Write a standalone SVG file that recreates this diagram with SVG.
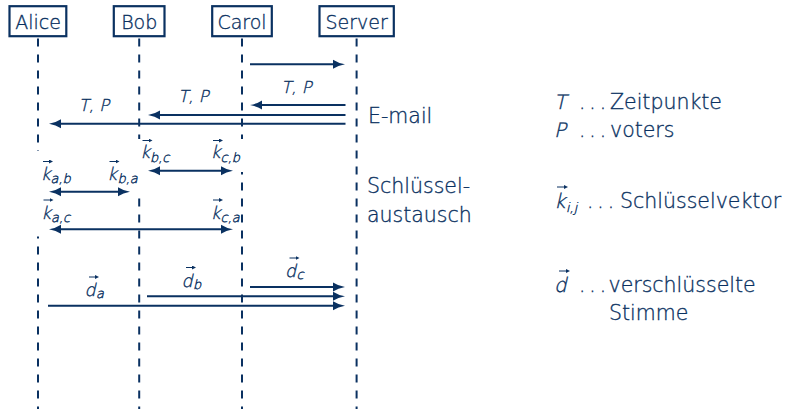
<svg xmlns="http://www.w3.org/2000/svg" width="793" height="409" viewBox="0 0 793 409">
  <style>
    .box { fill: #fff; stroke: #0a3161; stroke-width: 2.2; }
    .life { fill: none; stroke: #0a3161; stroke-width: 2; stroke-dasharray: 8 8; }
    .msg { fill: none; stroke: #0a3161; stroke-width: 2; }
    .one { marker-end: url(#head); }
    .two { marker-start: url(#head); marker-end: url(#head); }
    .vec { fill: none; stroke: #0a3161; stroke-width: 1; marker-end: url(#vhead); }
    text { font-family: "DejaVu Sans", "Liberation Sans", sans-serif; fill: #0a3161; font-weight: 300;
           stroke: #0a3161; stroke-width: 0.35; }
    .name { font-size: 19px; text-anchor: middle; }
    .txt { font-size: 20.5px; }
    /* slanted math letters, drawn upright and sheared by their transform */
    .lbl { font-size: 16.5px; text-anchor: middle; }
    .m { font-size: 17.5px; }
    .mb { font-size: 20px; }
    .sub { font-size: 13px; stroke-width: 0.4; }
    .dots { font-size: 20px; letter-spacing: 4px; }
  </style>
  <defs>
    <marker id="head" viewBox="0 -5 12 10" refX="6" refY="0" markerWidth="12" markerHeight="10" markerUnits="userSpaceOnUse" orient="auto-start-reverse">
      <path d="M12,0 Q5,1.2 0,4.5 L0,-4.5 Q5,-1.2 12,0 Z" fill="#0a3161"/>
    </marker>
    <marker id="vhead" viewBox="0 -2 4 4" refX="1" refY="0" markerWidth="4" markerHeight="4" markerUnits="userSpaceOnUse" orient="auto">
      <path d="M4,0 L0,2 L0,-2 Z" fill="#0a3161"/>
    </marker>
  </defs>

  <!-- participants -->
  <g id="alice">
    <rect class="box" x="9.5" y="6.2" width="56.8" height="30"/>
    <text class="name" x="38" y="29">Alice</text>
  </g>
  <g id="bob">
    <rect class="box" x="113.8" y="6.2" width="50.7" height="30"/>
    <text class="name" x="139.2" y="29">Bob</text>
  </g>
  <g id="carol">
    <rect class="box" x="212.2" y="6.2" width="59.6" height="30"/>
    <text class="name" x="242" y="29">Carol</text>
  </g>
  <g id="server">
    <rect class="box" x="319.5" y="6.2" width="74.3" height="30"/>
    <text class="name" x="356.6" y="29">Server</text>
  </g>

  <!-- lifelines -->
  <g id="lifelines">
    <path class="life" d="M38,38.5 V151"/>
    <path class="life" d="M38,236.5 V409" stroke-dashoffset="6"/>
    <path class="life" d="M139.2,38.5 V139"/>
    <path class="life" d="M139.2,198.5 V409"/>
    <path class="life" d="M242,38.5 V139"/>
    <path class="life" d="M242,172 V409" stroke-dashoffset="5.5"/>
    <path class="life" d="M356.6,38.5 V409"/>
  </g>

  <!-- messages -->
  <g id="connectors">
    <!-- e-mail round -->
    <path class="msg one" d="M250,64.3 H339"/>
    <path class="msg one" d="M345.5,105 H256"/>
    <path class="msg one" d="M345.5,115 H154"/>
    <path class="msg one" d="M345.5,123.8 H55"/>
    <!-- key exchange -->
    <path class="msg two" d="M154,170.7 H227"/>
    <path class="msg two" d="M55,191.7 H124"/>
    <path class="msg two" d="M55,229.3 H227"/>
    <!-- encrypted votes -->
    <path class="msg one" d="M250,287 H339"/>
    <path class="msg one" d="M147,296.2 H339"/>
    <path class="msg one" d="M48,305.7 H339"/>
  </g>

  <!-- message labels -->
  <g id="msg-labels">
    <text class="lbl" transform="translate(296.5,93) skewX(-13)">T, P</text>
    <text class="lbl" transform="translate(193.5,101.5) skewX(-13)">T, P</text>
    <text class="lbl" transform="translate(94,111) skewX(-13)">T, P</text>

    <text class="m" transform="translate(140,158) skewX(-13)">k</text><text class="sub" transform="translate(150,162) skewX(-13)">b,c</text>
    <path class="vec" d="M142.5,140.5 H149.5"/>
    <text class="m" transform="translate(210.5,158) skewX(-13)">k</text><text class="sub" transform="translate(220.5,162) skewX(-13)">c,b</text>
    <path class="vec" d="M213,140.5 H220"/>

    <text class="m" transform="translate(40.5,180) skewX(-13)">k</text><text class="sub" transform="translate(50.5,183) skewX(-13)">a,b</text>
    <path class="vec" d="M43,161.5 H50"/>
    <text class="m" transform="translate(107,180) skewX(-13)">k</text><text class="sub" transform="translate(117.5,183) skewX(-13)">b,a</text>
    <path class="vec" d="M109.5,161.5 H116.5"/>

    <text class="m" transform="translate(41,218.5) skewX(-13)">k</text><text class="sub" transform="translate(51,221.5) skewX(-13)">a,c</text>
    <path class="vec" d="M43.5,200 H50.5"/>
    <text class="m" transform="translate(210.5,218.5) skewX(-13)">k</text><text class="sub" transform="translate(220.5,221.5) skewX(-13)">c,a</text>
    <path class="vec" d="M213,200 H220"/>

    <text class="m" transform="translate(84.5,296) skewX(-13)">d</text><text class="sub" transform="translate(96,298) skewX(-13)">a</text>
    <path class="vec" d="M89,277 H96"/>
    <text class="m" transform="translate(181.5,286.5) skewX(-13)">d</text><text class="sub" transform="translate(193,288.5) skewX(-13)">b</text>
    <path class="vec" d="M186,267.5 H193"/>
    <text class="m" transform="translate(285,277) skewX(-13)">d</text><text class="sub" transform="translate(296.5,279) skewX(-13)">c</text>
    <path class="vec" d="M289.5,258 H296.5"/>
  </g>

  <!-- phase captions -->
  <g id="phases">
    <text class="txt" x="368" y="123.3">E-mail</text>
    <text class="txt" x="367" y="193.3">Schlüssel-</text>
    <text class="txt" x="367" y="221.7">austausch</text>
  </g>

  <!-- legend -->
  <g id="legend">
    <text class="mb" transform="translate(554,109.3) skewX(-13)">T</text>
    <text class="dots" x="579" y="109.3">...</text>
    <text class="txt" x="610" y="109.3">Zeitpunkte</text>

    <text class="mb" transform="translate(554,137.3) skewX(-13)">P</text>
    <text class="dots" x="579" y="137.3">...</text>
    <text class="txt" x="610" y="137.3">voters</text>

    <text class="mb" transform="translate(554,208.3) skewX(-13)">k</text><text class="sub" transform="translate(566,211.5) skewX(-13)">i,j</text>
    <path class="vec" d="M557,187 H565"/>
    <text class="dots" x="587" y="208.3">...</text>
    <text class="txt" x="620" y="208.3">Schlüsselvektor</text>

    <text class="mb" transform="translate(554,291.7) skewX(-13)">d</text>
    <path class="vec" d="M559,271 H567"/>
    <text class="dots" x="579" y="291.7">...</text>
    <text class="txt" x="608.5" y="291.7">verschlüsselte</text>
    <text class="txt" x="609" y="320">Stimme</text>
  </g>
</svg>
